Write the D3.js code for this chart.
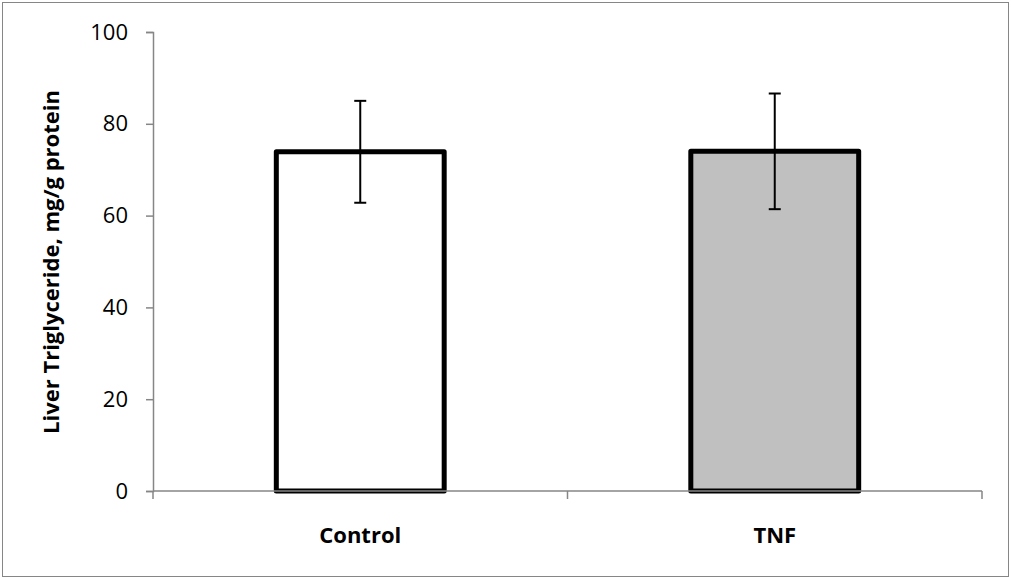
<!DOCTYPE html>
<html>
<head>
<meta charset="utf-8">
<script src="https://cdn.jsdelivr.net/npm/d3@7"></script>
<style>
  body { margin: 0; background: #fff; }
  text { font-family: "Open Sans", "Noto Sans", sans-serif; }
</style>
</head>
<body>
<script>
const width = 1011;
const height = 578;

// data
const categories = ["Control", "TNF"];
const means = [73.9, 74.0];
const errors = [11.1, 12.6];
const fills = ["#ffffff", "#c0c0c0"];
const yTicks = [0, 20, 40, 60, 80, 100];

const margin = { left: 153, right: 29, top: 32, bottom: 87 };

const svg = d3.select("body")
    .append("svg")
    .attr("width", width)
    .attr("height", height);

// outer frame
svg.append("rect")
    .attr("x", 2.5).attr("y", 2.5)
    .attr("width", width - 5).attr("height", height - 4)
    .attr("fill", "none")
    .attr("stroke", "#868686")
    .attr("stroke-width", 1);

const x = d3.scaleBand()
    .domain(categories)
    .range([margin.left, width - margin.right])
    .paddingInner(0)
    .paddingOuter(0);

const y = d3.scaleLinear()
    .domain([0, 100])
    .range([height - margin.bottom, margin.top]);

const barW = x.bandwidth() * 0.405;

// y axis
const yAxis = svg.append("g")
    .attr("transform", `translate(${margin.left},0)`)
    .call(d3.axisLeft(y).tickValues(yTicks).tickSize(7).tickPadding(18));
yAxis.select(".domain").attr("stroke", "#868686").attr("stroke-width", 1.5);
yAxis.selectAll(".tick line").attr("stroke", "#868686").attr("stroke-width", 1.5);
yAxis.selectAll("text")
    .attr("font-size", "22px")
    .attr("font-family", "'Open Sans', sans-serif")
    .attr("fill", "#000");

// bars
svg.selectAll("rect.bar")
    .data(categories)
    .enter()
    .append("rect")
    .attr("class", "bar")
    .attr("x", d => x(d) + x.bandwidth() / 2 - barW / 2)
    .attr("y", (d, i) => y(means[i]))
    .attr("width", barW)
    .attr("height", (d, i) => y(0) - y(means[i]))
    .attr("fill", (d, i) => fills[i])
    .attr("stroke", "#000")
    .attr("stroke-width", 5)
    .attr("stroke-linejoin", "round");

// x axis (drawn over bar bottoms)
const xAxis = svg.append("g")
    .attr("transform", `translate(0,${y(0)})`);
xAxis.append("line")
    .attr("x1", margin.left).attr("x2", width - margin.right)
    .attr("stroke", "#868686").attr("stroke-width", 1.5);
const xEdges = categories.map(c => x(c)).concat([x(categories[categories.length - 1]) + x.bandwidth()]);
xAxis.selectAll("line.tk")
    .data(xEdges)
    .enter()
    .append("line")
    .attr("class", "tk")
    .attr("x1", d => d).attr("x2", d => d)
    .attr("y1", 0).attr("y2", 8)
    .attr("stroke", "#868686").attr("stroke-width", 1.5);
xAxis.selectAll("text")
    .data(categories)
    .enter()
    .append("text")
    .attr("x", d => x(d) + x.bandwidth() / 2)
    .attr("y", 52)
    .attr("text-anchor", "middle")
    .attr("font-size", "22px")
    .attr("font-weight", "bold")
    .text(d => d);

// error bars
const eb = svg.selectAll("g.err")
    .data(categories)
    .enter()
    .append("g")
    .attr("class", "err")
    .attr("transform", d => `translate(${x(d) + x.bandwidth() / 2},0)`);
eb.append("line")
    .attr("y1", (d, i) => y(means[i] + errors[i]))
    .attr("y2", (d, i) => y(means[i] - errors[i]))
    .attr("stroke", "#000").attr("stroke-width", 2);
eb.append("line")
    .attr("x1", -6).attr("x2", 6)
    .attr("y1", (d, i) => y(means[i] + errors[i]))
    .attr("y2", (d, i) => y(means[i] + errors[i]))
    .attr("stroke", "#000").attr("stroke-width", 2);
eb.append("line")
    .attr("x1", -6).attr("x2", 6)
    .attr("y1", (d, i) => y(means[i] - errors[i]))
    .attr("y2", (d, i) => y(means[i] - errors[i]))
    .attr("stroke", "#000").attr("stroke-width", 2);

// y title
svg.append("text")
    .attr("transform", "translate(59,262) rotate(-90)")
    .attr("text-anchor", "middle")
    .attr("font-size", "22px")
    .attr("font-weight", "bold")
    .text("Liver Triglyceride, mg/g protein");
</script>
</body>
</html>
